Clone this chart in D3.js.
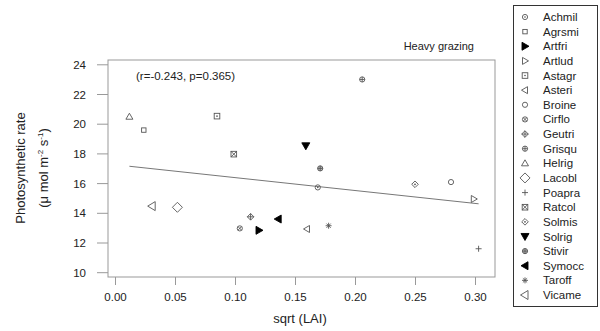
<!DOCTYPE html>
<html>
<head>
<meta charset="utf-8">
<script src="https://cdn.jsdelivr.net/npm/d3@7"></script>
<style>
  body { margin: 0; background: #fff; }
  svg { font-family: "Liberation Sans", Arial, sans-serif; }
</style>
</head>
<body>
<svg id="chart" width="600" height="331"></svg>
<script>
// species and their values
const species = ["Achmil", "Agrsmi", "Artfri", "Artlud", "Astagr", "Asteri", "Broine", "Cirflo", "Geutri", "Grisqu",
                 "Helrig", "Lacobl", "Poapra", "Ratcol", "Solmis", "Solrig", "Stivir", "Symocc", "Taroff", "Vicame"];
const sqrtLAI = [0.169, 0.024, 0.120, 0.299, 0.085, 0.160, 0.280, 0.104, 0.113, 0.206,
                 0.012, 0.052, 0.303, 0.099, 0.250, 0.159, 0.171, 0.136, 0.178, 0.031];
const photo = [15.71, 19.57, 12.82, 14.93, 20.51, 12.91, 16.07, 12.95, 13.73, 22.98,
               20.47, 14.37, 11.58, 17.95, 15.92, 18.51, 16.99, 13.58, 13.13, 14.45];
const xTicks = [0.00, 0.05, 0.10, 0.15, 0.20, 0.25, 0.30];
const yTicks = [10, 12, 14, 16, 18, 20, 22, 24];
const panelTitle = "Heavy grazing";
const statsLabel = "(r=-0.243, p=0.365)";

// symbol for each species (style)
const shapes = ["circDot", "square", "triRightF", "triRight", "squareDot", "triLeft", "circle", "circX", "diamPlus", "circPlus",
                "triUp", "diamBig", "plus", "squareX", "diamDot", "triDownF", "circStar", "triLeftF", "star", "triLeftBig"];

const svg = d3.select('#chart');
const box = { left: 108, right: 495, top: 60, bottom: 277 };
const grey = '#555';

const x = d3.scaleLinear().domain([0, 0.30]).range([115, 475]);
const y = d3.scaleLinear().domain([10, 24]).range([272.2, 64.3]);

// plot frame
svg.append('rect')
    .attr('x', box.left).attr('y', box.top)
    .attr('width', box.right - box.left).attr('height', box.bottom - box.top)
    .attr('fill', 'none').attr('stroke', '#999').attr('stroke-width', 1);

// axes
const xaxis = svg.append('g')
    .attr('transform', `translate(0, ${box.bottom})`)
    .call(d3.axisBottom(x).tickValues(xTicks).tickFormat(d3.format('.2f')).tickSize(8).tickSizeOuter(0));
const yaxis = svg.append('g')
    .attr('transform', `translate(${box.left}, 0)`)
    .call(d3.axisLeft(y).tickValues(yTicks).tickSize(11).tickSizeOuter(0));
[xaxis, yaxis].forEach(g => {
    g.select('.domain').remove();
    g.selectAll('line').attr('stroke', '#999');
    g.selectAll('text').attr('fill', '#222').style('font-size', '11.5px').style('font-family', '"Liberation Sans", Arial, sans-serif');
});
xaxis.selectAll('text').attr('dy', '1.1em');
yaxis.selectAll('text').attr('x', -22).attr('dy', '0.35em');

// regression line
const pts = species.map((s, i) => ({ name: s, x: sqrtLAI[i], y: photo[i], shape: shapes[i] }));
const mx = d3.mean(pts, d => d.x), my = d3.mean(pts, d => d.y);
const slope = d3.sum(pts, d => (d.x - mx) * (d.y - my)) / d3.sum(pts, d => (d.x - mx) ** 2);
const icept = my - slope * mx;
const [x0, x1] = d3.extent(pts, d => d.x);
svg.append('line')
    .attr('x1', x(x0)).attr('y1', y(icept + slope * x0))
    .attr('x2', x(x1)).attr('y2', y(icept + slope * x1))
    .attr('stroke', '#777').attr('stroke-width', 1);

// symbol drawing
function drawShape(g, shape) {
    const st = { fill: 'none', stroke: grey, 'stroke-width': 0.9 };
    const add = (tag, attrs) => {
        const el = g.append(tag);
        Object.entries(Object.assign({}, st, attrs)).forEach(([k, v]) => el.attr(k, v));
        return el;
    };
    const poly = (p, filled) => add('path', { d: 'M' + p.join('L') + 'Z', fill: filled ? '#000' : 'none', stroke: filled ? '#000' : grey });
    switch (shape) {
        case 'circle': add('circle', { r: 2.6 }); break;
        case 'circDot': add('circle', { r: 2.6 }); add('circle', { r: 0.8, fill: grey, stroke: 'none' }); break;
        case 'circX': add('circle', { r: 2.6 }); add('path', { d: 'M-1.8,-1.8L1.8,1.8M-1.8,1.8L1.8,-1.8' }); break;
        case 'circPlus': add('circle', { r: 2.6 }); add('path', { d: 'M-2.6,0H2.6M0,-2.6V2.6' }); break;
        case 'circStar': add('circle', { r: 2.6, fill: '#bbb' }); add('path', { d: 'M-2.6,0H2.6M0,-2.6V2.6' }); break;
        case 'square': add('rect', { x: -2.2, y: -2.2, width: 4.4, height: 4.4 }); break;
        case 'squareDot': add('rect', { x: -2.8, y: -2.8, width: 5.6, height: 5.6 }); add('circle', { r: 0.8, fill: grey, stroke: 'none' }); break;
        case 'squareX': add('rect', { x: -2.8, y: -2.8, width: 5.6, height: 5.6 }); add('path', { d: 'M-2.8,-2.8L2.8,2.8M-2.8,2.8L2.8,-2.8' }); break;
        case 'diamBig': poly([[0, -5], [5, 0], [0, 5], [-5, 0]]); break;
        case 'diamDot': poly([[0, -3.3], [3.3, 0], [0, 3.3], [-3.3, 0]]); add('circle', { r: 0.9, fill: grey, stroke: 'none' }); break;
        case 'diamPlus': poly([[0, -3.3], [3.3, 0], [0, 3.3], [-3.3, 0]]); add('path', { d: 'M-3.3,0H3.3M0,-3.3V3.3' }); break;
        case 'plus': add('path', { d: 'M-3,0H3M0,-3V3' }); break;
        case 'star': add('path', { d: 'M-3,0H3M0,-3V3M-2.1,-2.1L2.1,2.1M-2.1,2.1L2.1,-2.1' }); break;
        case 'triUp': poly([[0, -3.5], [3.5, 2.5], [-3.5, 2.5]]); break;
        case 'triRight': poly([[3.5, 0], [-2.5, -3.5], [-2.5, 3.5]]); break;
        case 'triRightF': poly([[4, 0], [-3, -4], [-3, 4]], true); break;
        case 'triLeft': poly([[-3.5, 0], [2.5, -3.5], [2.5, 3.5]]); break;
        case 'triLeftBig': poly([[-4.5, 0], [3, -4.5], [3, 4.5]]); break;
        case 'triLeftF': poly([[-4, 0], [3, -4], [3, 4]], true); break;
        case 'triDownF': poly([[0, 4], [-4, -3], [4, -3]], true); break;
    }
}

// points
svg.append('g').selectAll('g')
    .data(pts)
    .enter()
    .append('g')
    .attr('transform', d => `translate(${x(d.x)}, ${y(d.y)})`)
    .each(function (d) { drawShape(d3.select(this), d.shape); });

// texts
svg.append('text').attr('x', 474).attr('y', 50).attr('text-anchor', 'end')
    .attr('fill', '#222').style('font-size', '11px').text(panelTitle);
svg.append('text').attr('x', 136).attr('y', 80)
    .attr('fill', '#222').style('font-size', '11.5px').text(statsLabel);

svg.append('text').attr('x', 300).attr('y', 323).attr('text-anchor', 'middle')
    .attr('fill', '#222').style('font-size', '13px').text('sqrt (LAI)');

const ytitle = svg.append('g').attr('transform', 'translate(25, 168) rotate(-90)');
ytitle.append('text').attr('text-anchor', 'middle').attr('fill', '#222')
    .style('font-size', '13px').text('Photosynthetic rate');
const yt2 = ytitle.append('text').attr('y', 23).attr('text-anchor', 'middle').attr('fill', '#222')
    .style('font-size', '13px');
yt2.append('tspan').text('(\u03bc mol m');
yt2.append('tspan').attr('dy', -5).style('font-size', '8px').text('-2');
yt2.append('tspan').attr('dy', 5).text(' s');
yt2.append('tspan').attr('dy', -5).style('font-size', '8px').text('-1');
yt2.append('tspan').attr('dy', 5).text(')');

// legend
const lg = svg.append('g');
lg.append('rect').attr('x', 513.5).attr('y', 5.5).attr('width', 84).attr('height', 301)
    .attr('fill', 'none').attr('stroke', '#333').attr('stroke-width', 1);
const ly = d3.scalePoint().domain(species).range([17, 295]);
const items = lg.selectAll('g.item')
    .data(pts)
    .enter()
    .append('g')
    .attr('class', 'item')
    .attr('transform', d => `translate(525, ${ly(d.name)})`);
items.each(function (d) { drawShape(d3.select(this), d.shape); });
items.append('text').attr('x', 18).attr('dy', '0.35em')
    .attr('fill', '#222').style('font-size', '11.5px').text(d => d.name);
</script>
</body>
</html>
